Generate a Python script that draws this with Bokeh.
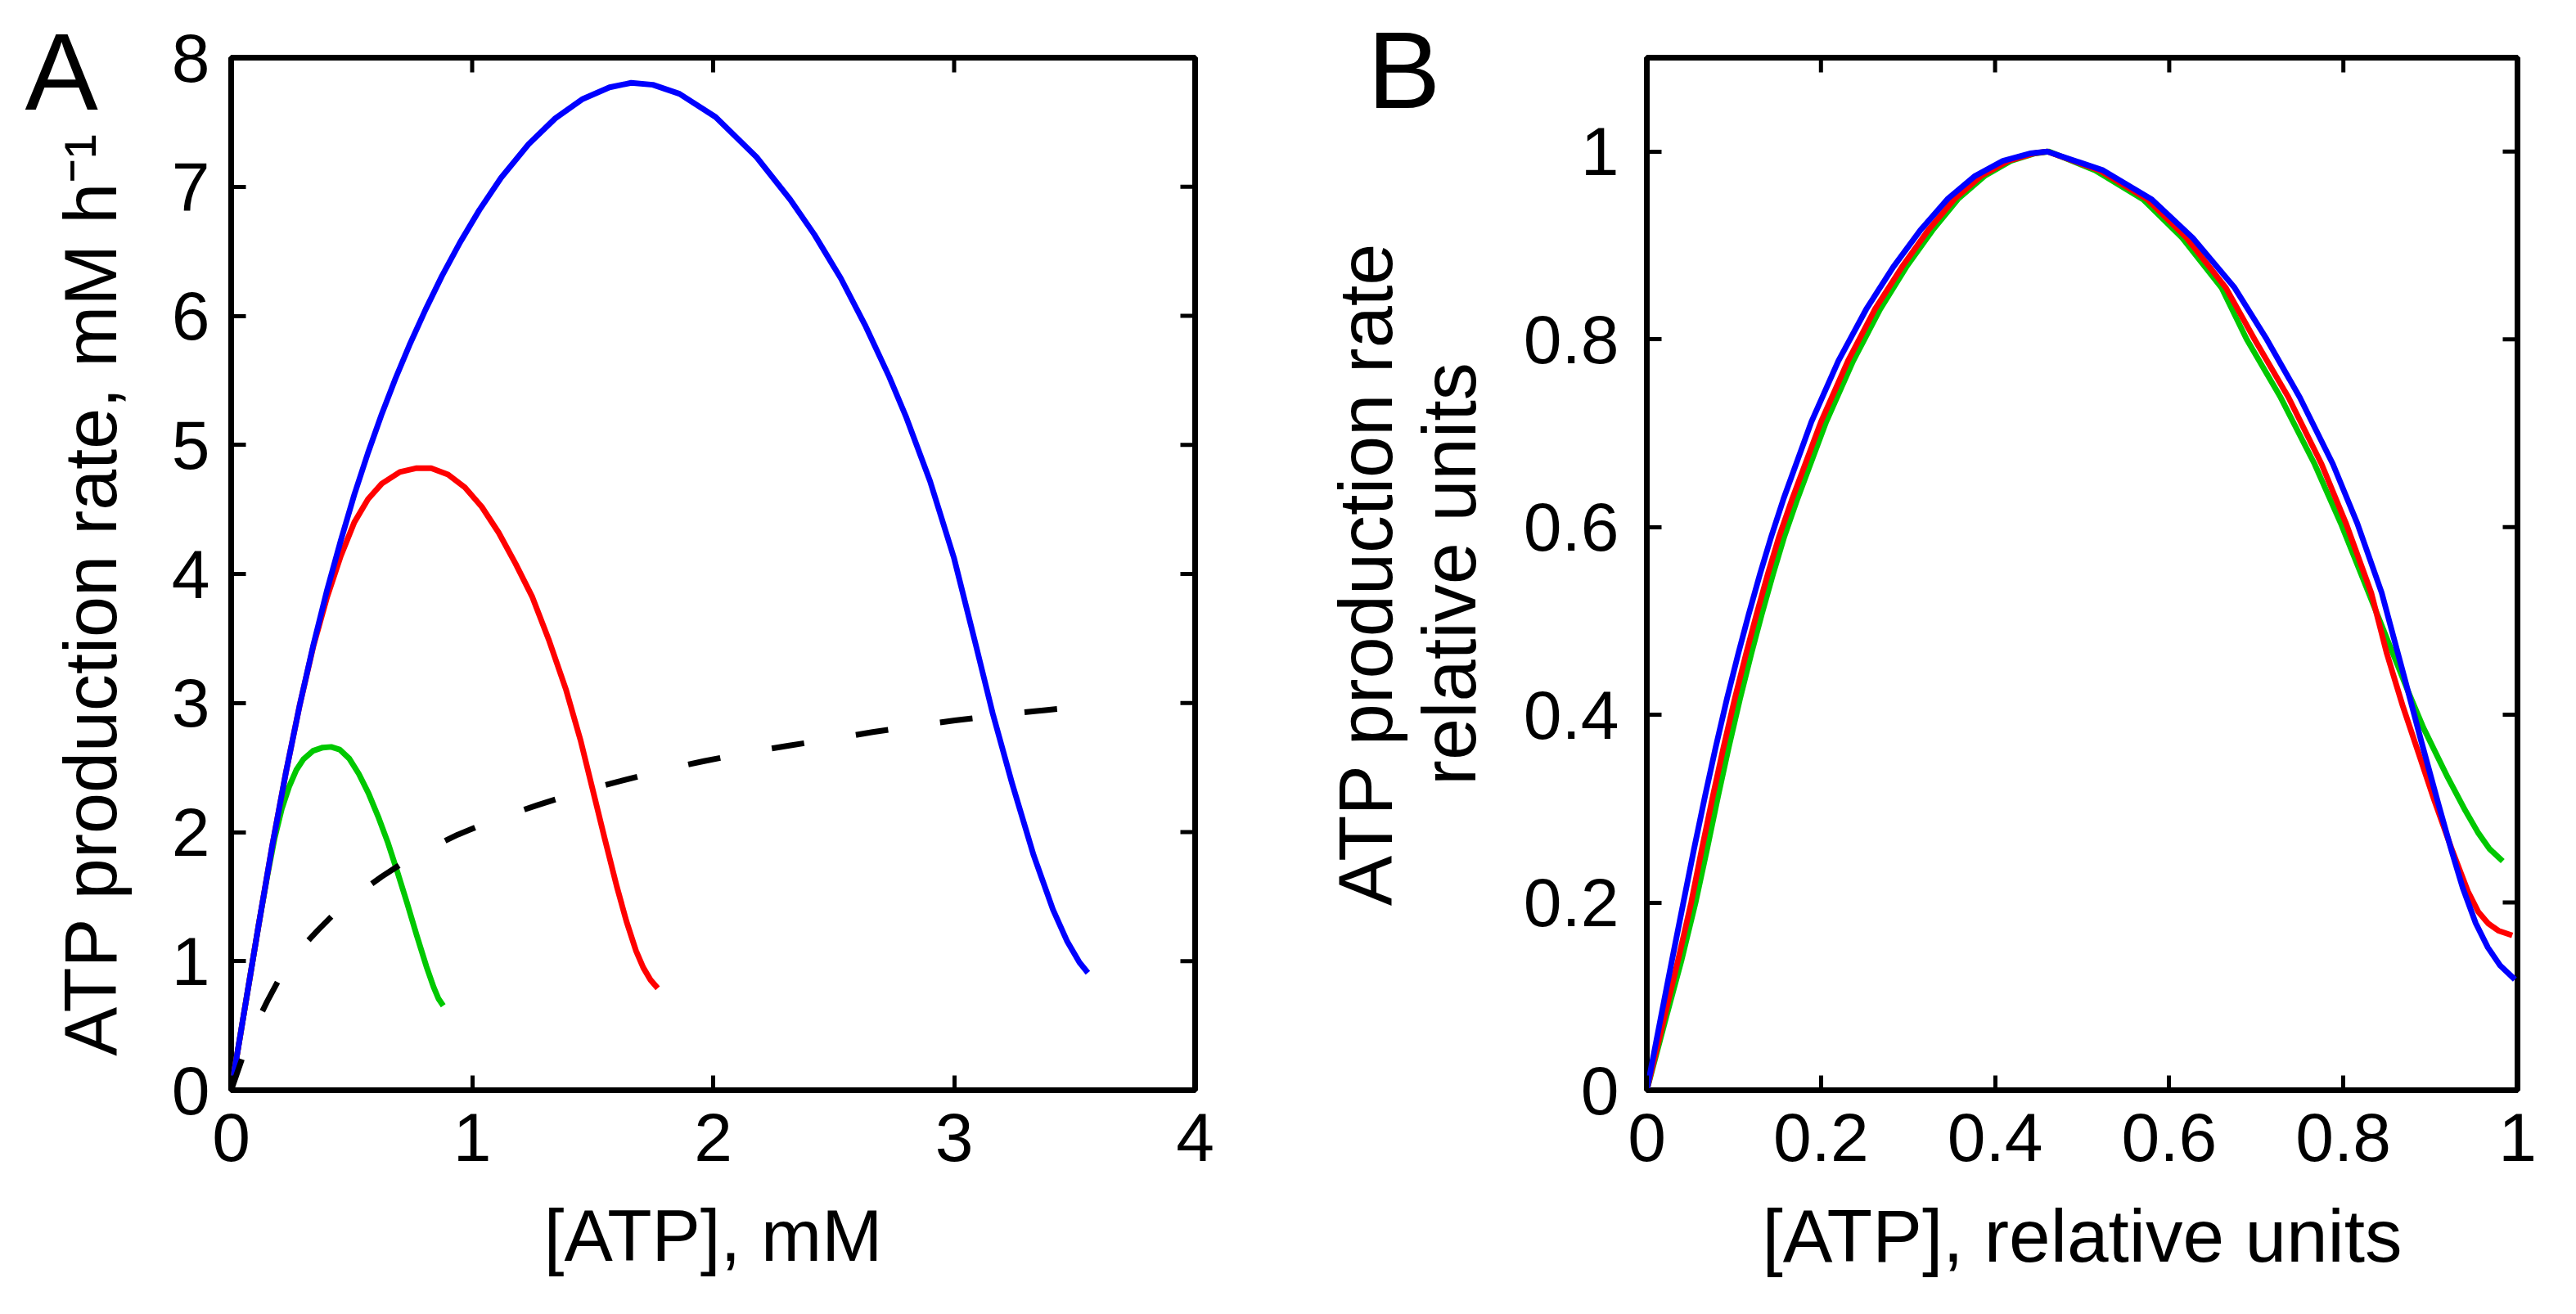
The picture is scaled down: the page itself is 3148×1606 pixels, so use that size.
import math
from bokeh.plotting import figure
from bokeh.models import Range1d, FixedTicker, Label, Div
from bokeh.layouts import row
from bokeh.embed import file_html
from bokeh.resources import INLINE

# ---------------- Panel A data ([ATP] in mM, rate in mM/h) ----------------
A_BLUE_X = [0, 0.057, 0.114, 0.17, 0.227, 0.284, 0.341, 0.398, 0.455, 0.511, 0.568,
            0.625, 0.682, 0.739, 0.807, 0.875, 0.95, 1.03, 1.12, 1.234, 1.345, 1.459,
            1.57, 1.66, 1.75, 1.86, 2.01, 2.18, 2.32, 2.42, 2.53, 2.63, 2.73, 2.80,
            2.90, 3.00, 3.09, 3.16, 3.24, 3.33, 3.41, 3.47, 3.52, 3.555]
A_BLUE_Y = [0, 0.64, 1.28, 1.89, 2.46, 2.98, 3.45, 3.875, 4.26, 4.615, 4.94,
            5.24, 5.515, 5.77, 6.05, 6.31, 6.57, 6.82, 7.07, 7.33, 7.53, 7.68,
            7.77, 7.805, 7.79, 7.72, 7.54, 7.23, 6.90, 6.63, 6.29, 5.93, 5.53, 5.22,
            4.72, 4.12, 3.45, 2.92, 2.38, 1.82, 1.40, 1.15, 0.99, 0.91]

A_RED_X = [0, 0.057, 0.114, 0.17, 0.227, 0.284, 0.341, 0.398, 0.455, 0.511, 0.568,
           0.625, 0.70, 0.77, 0.83, 0.90, 0.97, 1.04, 1.11, 1.18, 1.25, 1.32, 1.39,
           1.45, 1.50, 1.55, 1.60, 1.64, 1.68, 1.71, 1.74, 1.77]
A_RED_Y = [0, 0.64, 1.28, 1.89, 2.46, 2.98, 3.44, 3.82, 4.14, 4.40, 4.58,
           4.70, 4.79, 4.82, 4.82, 4.77, 4.67, 4.52, 4.32, 4.08, 3.82, 3.48, 3.10,
           2.71, 2.33, 1.95, 1.58, 1.31, 1.08, 0.95, 0.855, 0.79]

A_GREEN_X = [0, 0.057, 0.114, 0.15, 0.18, 0.21, 0.24, 0.27, 0.30, 0.34, 0.38, 0.415,
             0.45, 0.49, 0.53, 0.57, 0.61, 0.65, 0.69, 0.73, 0.77, 0.81, 0.84, 0.86, 0.88]
A_GREEN_Y = [0, 0.64, 1.28, 1.66, 1.95, 2.18, 2.35, 2.48, 2.565, 2.63, 2.655, 2.66,
             2.64, 2.57, 2.45, 2.30, 2.12, 1.92, 1.69, 1.45, 1.20, 0.96, 0.80, 0.71, 0.655]

A_DASH_X = [0, 0.05, 0.1, 0.15, 0.21, 0.28, 0.36, 0.445, 0.53, 0.625, 0.736, 0.84,
            0.94, 1.057, 1.17, 1.273, 1.391, 1.5, 1.615, 1.74, 1.85, 1.962, 2.085,
            2.2, 2.316, 2.45, 2.55, 2.662, 2.79, 2.9, 3.003, 3.157, 3.27, 3.379, 3.52]
A_DASH_Y = [0, 0.27, 0.50, 0.69, 0.90, 1.08, 1.24, 1.40, 1.53, 1.655, 1.79, 1.89,
            1.98, 2.07, 2.145, 2.21, 2.28, 2.34, 2.395, 2.455, 2.505, 2.55, 2.595,
            2.635, 2.67, 2.71, 2.74, 2.775, 2.81, 2.84, 2.865, 2.90, 2.925, 2.945, 2.97]

A_X_TICKS = [0, 1, 2, 3, 4]
A_X_LABELS = ["0", "1", "2", "3", "4"]
A_Y_TICKS = [0, 1, 2, 3, 4, 5, 6, 7, 8]
A_Y_LABELS = ["0", "1", "2", "3", "4", "5", "6", "7", "8"]

# ---------------- Panel B data (relative units) ----------------
B_BLUE_X = [0, 0.016, 0.029, 0.042, 0.054, 0.067, 0.079, 0.092, 0.105, 0.117, 0.13,
            0.143, 0.157, 0.189, 0.22, 0.252, 0.283, 0.314, 0.346, 0.377, 0.409,
            0.44, 0.46, 0.524, 0.58, 0.627, 0.675, 0.712, 0.75, 0.788, 0.816,
            0.844, 0.87, 0.89, 0.91, 0.924, 0.937, 0.952, 0.966, 0.98, 0.997]
B_BLUE_Y = [0, 0.077, 0.139, 0.2, 0.256, 0.314, 0.365, 0.417, 0.465, 0.507, 0.55,
            0.59, 0.63, 0.712, 0.777, 0.832, 0.877, 0.916, 0.950, 0.974, 0.99,
            0.998, 1.0, 0.98, 0.949, 0.908, 0.855, 0.80, 0.738, 0.667, 0.604,
            0.53, 0.44, 0.37, 0.302, 0.256, 0.216, 0.178, 0.152, 0.133, 0.118]

B_RED_X = [0, 0.02, 0.036, 0.051, 0.063, 0.076, 0.088, 0.101, 0.114, 0.126, 0.139,
           0.152, 0.167, 0.2, 0.231, 0.262, 0.293, 0.323, 0.354, 0.384, 0.415,
           0.444, 0.46, 0.52, 0.575, 0.62, 0.665, 0.698, 0.737, 0.775, 0.803,
           0.832, 0.85, 0.868, 0.886, 0.904, 0.924, 0.943, 0.955, 0.966, 0.978, 0.994]
B_RED_Y = [0, 0.077, 0.139, 0.2, 0.256, 0.314, 0.365, 0.417, 0.465, 0.507, 0.55,
           0.59, 0.63, 0.712, 0.777, 0.832, 0.877, 0.916, 0.950, 0.974, 0.99,
           0.998, 1.0, 0.98, 0.949, 0.908, 0.855, 0.80, 0.738, 0.667, 0.604,
           0.53, 0.465, 0.41, 0.36, 0.31, 0.258, 0.212, 0.19, 0.178, 0.17, 0.165]

B_GREEN_X = [0, 0.022, 0.04, 0.056, 0.069, 0.082, 0.094, 0.107, 0.12, 0.132, 0.145,
             0.158, 0.173, 0.206, 0.237, 0.268, 0.298, 0.328, 0.358, 0.388, 0.418,
             0.446, 0.462, 0.515, 0.57, 0.615, 0.66, 0.689, 0.728, 0.767, 0.797,
             0.829, 0.854, 0.873, 0.892, 0.92, 0.94, 0.955, 0.968, 0.983]
B_GREEN_Y = [0, 0.077, 0.139, 0.2, 0.256, 0.314, 0.365, 0.417, 0.465, 0.507, 0.55,
             0.59, 0.63, 0.712, 0.777, 0.832, 0.877, 0.916, 0.950, 0.974, 0.99,
             0.998, 1.0, 0.98, 0.949, 0.908, 0.855, 0.80, 0.738, 0.667, 0.604,
             0.53, 0.472, 0.428, 0.386, 0.333, 0.298, 0.274, 0.257, 0.244]

B_X_TICKS = [0, 0.2, 0.4, 0.6, 0.8, 1]
B_X_LABELS = ["0", "0.2", "0.4", "0.6", "0.8", "1"]
B_Y_TICKS = [0, 0.2, 0.4, 0.6, 0.8, 1]
B_Y_LABELS = ["0", "0.2", "0.4", "0.6", "0.8", "1"]

FONT = "Liberation Sans"
BLUE = "#0000FF"
RED = "#FF0000"
GREEN = "#00C800"
LW = 7
TICK_LEN = 18
TICK_W = 5


def style_axis(ax, ticks, labels, label_standoff, label_font, axis_standoff):
    ax.ticker = FixedTicker(ticks=ticks)
    ax.major_label_overrides = dict(zip(ticks, labels))
    ax.minor_tick_line_color = None
    ax.major_tick_in = TICK_LEN
    ax.major_tick_out = 0
    ax.major_tick_line_width = TICK_W
    ax.major_tick_line_color = "black"
    ax.axis_line_color = None
    ax.major_label_text_font = FONT
    ax.major_label_text_color = "black"
    ax.major_label_text_font_size = "84px"
    ax.major_label_standoff = label_standoff
    ax.axis_label_text_font = FONT
    ax.axis_label_text_font_size = label_font
    ax.axis_label_text_font_style = "normal"
    ax.axis_label_text_color = "black"
    ax.axis_label_standoff = axis_standoff


def make_fig(width, xr, yr, bl, br):
    p = figure(width=width, height=1588, x_range=Range1d(*xr), y_range=Range1d(*yr),
               output_backend="svg", toolbar_location=None,
               min_border_left=bl, min_border_right=br,
               min_border_top=70, min_border_bottom=256)
    p.xgrid.visible = False
    p.ygrid.visible = False
    p.outline_line_color = "black"
    p.outline_line_width = 7
    p.background_fill_color = "white"
    p.border_fill_color = "white"
    return p


def box_ticks(p, xticks, yticks, xmax, ymax):
    # inward ticks on the top and right edges (half of each dash is clipped by the frame)
    p.scatter(xticks, [ymax] * len(xticks), marker="dash", angle=math.pi / 2,
              size=2 * TICK_LEN, line_color="black", line_width=TICK_W)
    p.scatter([xmax] * len(yticks), yticks, marker="dash",
              size=2 * TICK_LEN, line_color="black", line_width=TICK_W)


# ---------------- Figure A ----------------
pA = make_fig(1592, (0, 4), (0, 8), 282, 132)
style_axis(pA.xaxis[0], A_X_TICKS, A_X_LABELS, 28, "89px", 38)
style_axis(pA.yaxis[0], A_Y_TICKS, A_Y_LABELS, 26, "90px", 46)
pA.xaxis[0].axis_label = "[ATP], mM"
# trailing no-break spaces nudge the centred label slightly downwards, as in the original
pA.yaxis[0].axis_label = "ATP production rate, mM h\u207b\u00b9\u00a0\u00a0"
box_ticks(pA, A_X_TICKS, A_Y_TICKS, 4, 8)

pA.line(A_GREEN_X, A_GREEN_Y, line_color=GREEN, line_width=LW, line_join="round")
pA.line(A_RED_X, A_RED_Y, line_color=RED, line_width=LW, line_join="round")
pA.line(A_BLUE_X, A_BLUE_Y, line_color=BLUE, line_width=LW, line_join="round")
pA.line(A_DASH_X, A_DASH_Y, line_color="black", line_width=LW, line_dash="40 64")

# panel letter "A": lives in the right side panel (not clipped), shifted to the far left
pA.add_layout(Label(x=-1430, y=1245, x_units="screen", y_units="screen", text="A",
                    text_font=FONT, text_font_size="134px", text_color="black",
                    text_baseline="alphabetic", text_align="left"), "right")

# ---------------- Figure B ----------------
pB = make_fig(1540, (0, 1), (0, 1.1), 420, 56)
style_axis(pB.xaxis[0], B_X_TICKS, B_X_LABELS, 28, "91px", 38)
style_axis(pB.yaxis[0], B_Y_TICKS, B_Y_LABELS, 34, "92px", 37)
pB.xaxis[0].axis_label = "[ATP], relative units"
pB.yaxis[0].axis_label = "ATP production rate\nrelative units"
pB.yaxis[0].axis_label_text_line_height = 1.0
box_ticks(pB, B_X_TICKS, B_Y_TICKS, 1, 1.1)

pB.line(B_GREEN_X, B_GREEN_Y, line_color=GREEN, line_width=LW, line_join="round")
pB.line(B_RED_X, B_RED_Y, line_color=RED, line_width=LW, line_join="round")
pB.line(B_BLUE_X, B_BLUE_Y, line_color=BLUE, line_width=LW, line_join="round")

# panel letter "B": absolutely positioned text over the left margin of figure B
letter_b = Div(
    text='<span style="font-family: \'Liberation Sans\'; font-size: 134px; '
         'line-height: 1; color: black; white-space: nowrap;">B</span>',
    styles={"position": "absolute", "left": "1671px", "top": "19px",
            "margin": "0", "padding": "0", "z-index": "10"},
)

layout = row(pA, pB, letter_b)
open("out.html", "w").write(file_html(layout, INLINE))
